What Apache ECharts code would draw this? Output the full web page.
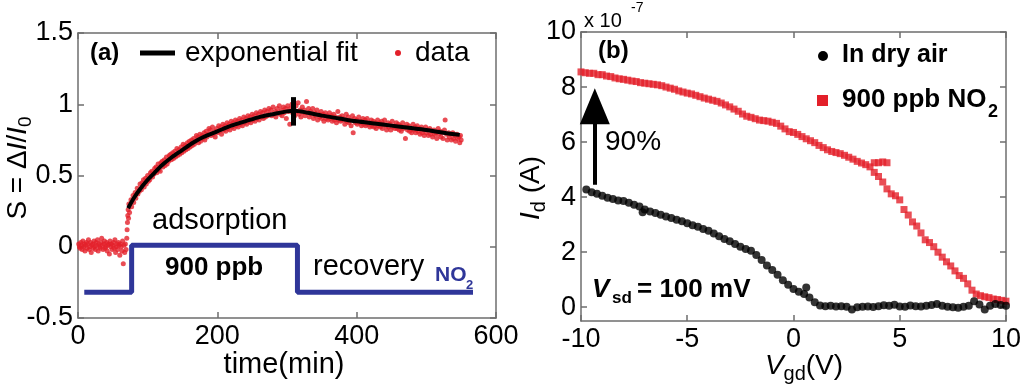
<!DOCTYPE html>
<html><head><meta charset="utf-8">
<script src="https://cdn.jsdelivr.net/npm/echarts@6/dist/echarts.min.js"></script>
<style>html,body{margin:0;padding:0;background:#fff}#c{width:1024px;height:391px}</style>
</head><body><div id="c"></div>
<script>
// ---------- Panel (a): response vs time ----------
const timeTicks = [0, 200, 400, 600];
const sTicks = [-0.5, 0, 0.5, 1, 1.5];
// measured response S (time[min], S)
const dataPoints = [
[1,0.02],[2,0.00],[3,-0.01],[4,0.03],[5,0.01],[6,-0.02],[7,0.04],[8,0.00],[9,0.02],[10,-0.03],
[11,0.01],[12,0.03],[13,-0.01],[14,0.02],[15,0.05],[16,-0.02],[17,0.00],[18,0.03],[19,-0.04],[20,0.01],
[21,0.02],[22,-0.01],[23,0.04],[24,0.00],[25,-0.02],[26,0.03],[27,0.01],[28,0.05],[29,-0.03],[30,0.02],
[31,0.00],[32,-0.01],[33,0.03],[34,0.06],[35,0.01],[36,-0.02],[37,0.02],[38,0.04],[39,-0.01],[40,0.00],
[41,0.03],[42,-0.03],[43,0.01],[44,0.02],[45,-0.05],[46,0.04],[47,0.00],[48,0.02],[49,-0.02],[50,0.01],
[51,0.03],[52,-0.01],[53,0.05],[54,-0.04],[55,0.00],[56,0.02],[57,-0.02],[58,0.03],[59,0.01],[60,-0.06],
[61,0.02],[62,0.00],[63,-0.03],[64,0.04],[65,-0.12],[66,0.01],[67,-0.04],[68,0.02],[69,-0.02],
[70,0.06],[70.5,0.12],[71,0.17],[71.5,0.22],[72,0.26],[72.5,0.20],
[73,0.30],[74,0.24],[76,0.33],[77,0.28],[79,0.36],[80,0.31],[82,0.38],[83,0.34],[85,0.41],[86,0.37],
[88,0.39],[89,0.44],[91,0.40],[92,0.45],[94,0.47],[95,0.42],[97,0.48],[98,0.44],[100,0.50],[101,0.46],
[103,0.47],[104,0.52],[106,0.53],[107,0.49],[109,0.51],[110,0.55],[112,0.56],[113,0.52],[115,0.58],[116,0.54],
[118,0.53],[119,0.59],[121,0.60],[122,0.56],[124,0.61],[125,0.57],[127,0.63],[128,0.58],[130,0.60],[131,0.64],
[133,0.65],[134,0.61],[136,0.66],[137,0.62],[139,0.67],[140,0.63],[142,0.69],[143,0.64],[145,0.68],[146,0.65],
[148,0.70],[149,0.66],[151,0.72],[152,0.67],[154,0.71],[155,0.68],[157,0.73],[158,0.69],[160,0.74],[161,0.70],
[163,0.75],[164,0.71],[166,0.76],[167,0.72],[169,0.74],[170,0.78],[172,0.77],[173,0.73],[175,0.79],[176,0.74],
[178,0.78],[179,0.76],[181,0.80],[182,0.75],[184,0.81],[185,0.77],[187,0.79],[188,0.83],[190,0.82],[191,0.78],
[193,0.84],[194,0.79],[196,0.81],[197,0.77],[199,0.83],[200,0.80],[202,0.85],[203,0.81],[205,0.84],[206,0.79],
[208,0.86],[209,0.82],[211,0.85],[212,0.81],[214,0.87],[215,0.83],[217,0.86],[218,0.82],[220,0.88],[221,0.84],
[223,0.87],[224,0.83],[226,0.89],[227,0.85],[229,0.88],[230,0.84],[232,0.90],[233,0.86],[235,0.89],[236,0.85],
[238,0.91],[239,0.87],[241,0.90],[242,0.86],[244,0.92],[245,0.88],[247,0.91],[248,0.87],[250,0.93],[251,0.89],
[253,0.92],[254,0.88],[256,0.94],[257,0.90],[259,0.93],[260,0.89],[262,0.95],[263,0.91],[265,0.94],[266,0.90],
[268,0.96],[269,0.91],[271,0.95],[272,0.92],[274,0.97],[275,0.93],[277,0.96],[278,0.92],[280,0.98],[281,0.93],
[283,0.95],[284,0.91],[286,0.97],[287,0.94],[289,0.99],[290,0.93],[292,0.96],[293,0.92],[295,0.98],[296,0.94],
[298,0.97],[299,0.90],[301,0.99],[302,0.95],[304,0.86],[305,0.97],[307,1.00],[308,0.94],[310,0.97],[311,0.92],
[313,0.99],[314,0.95],[316,1.01],[317,0.93],[319,0.96],[320,0.91],[322,0.98],[323,0.94],[325,0.96],[326,0.92],
[328,1.02],[329,0.94],[331,0.97],[332,0.91],[334,0.95],[335,0.93],[337,0.97],[338,0.90],[340,0.94],[341,0.92],
[343,0.96],[344,0.89],[346,0.93],[347,0.91],[349,0.95],[350,0.90],[352,0.93],[353,0.88],[355,0.94],[356,0.90],
[358,0.92],[359,0.89],[361,0.94],[362,0.90],[364,0.92],[365,0.88],[367,0.93],[368,0.89],[370,0.91],[371,0.87],
[373,0.95],[374,0.89],[376,0.91],[377,0.88],[379,0.92],[380,0.89],[382,0.90],[383,0.86],[385,0.93],[386,0.88],
[388,0.91],[389,0.87],[391,0.89],[392,0.85],[394,0.92],[395,0.80],[397,0.90],[398,0.87],[400,0.89],[401,0.86],
[403,0.91],[404,0.87],[406,0.88],[407,0.85],[409,0.90],[410,0.86],[412,0.89],[413,0.85],[415,0.90],[416,0.86],
[418,0.87],[419,0.84],[421,0.89],[422,0.85],[424,0.88],[425,0.84],[427,0.87],[428,0.83],[430,0.89],[431,0.85],
[433,0.87],[434,0.84],[436,0.88],[437,0.83],[439,0.86],[440,0.89],[442,0.85],[443,0.82],[445,0.87],[446,0.84],
[448,0.86],[449,0.82],[451,0.88],[452,0.84],[454,0.85],[455,0.83],[457,0.87],[458,0.83],[460,0.86],[461,0.82],
[463,0.85],[464,0.81],[466,0.87],[467,0.83],[469,0.84],[470,0.76],[472,0.86],[473,0.82],[475,0.85],[476,0.81],
[478,0.83],[479,0.80],[481,0.86],[482,0.82],[484,0.84],[485,0.80],[487,0.85],[488,0.81],[490,0.83],[491,0.79],
[493,0.84],[494,0.80],[496,0.82],[497,0.78],[499,0.84],[500,0.80],[502,0.82],[503,0.78],[505,0.83],[506,0.79],
[508,0.81],[509,0.77],[511,0.82],[512,0.79],[514,0.80],[515,0.76],[517,0.83],[518,0.79],[520,0.81],[521,0.77],
[523,0.80],[524,0.76],[526,0.82],[527,0.89],[529,0.79],[530,0.75],[532,0.80],[533,0.77],[535,0.79],[536,0.75],
[538,0.80],[539,0.76],[541,0.78],[542,0.74],[544,0.79],[545,0.76],[547,0.77],[548,0.73],[549,0.78],[550,0.75]
];
// exponential fit
const fitPoints = [
[72,0.27],[80,0.34],[90,0.41],[100,0.47],[110,0.52],[120,0.57],[135,0.63],[150,0.68],[165,0.73],[180,0.77],
[200,0.81],[220,0.85],[240,0.88],[260,0.91],[280,0.93],[300,0.95],[310,0.955],[330,0.94],[350,0.92],[375,0.90],
[400,0.88],[425,0.865],[450,0.85],[475,0.835],[500,0.82],[525,0.80],[548,0.785]
];
// NO2 exposure schedule (step trace)
const no2Steps = [[9,-0.32],[77,-0.32],[77,0.01],[315,0.01],[315,-0.32],[567,-0.32]];
const switchMark = [[309,0.85],[309,1.05]];

// ---------- Panel (b): Id vs Vgd ----------
const vgdTicks = [-10, -5, 0, 5, 10];
const idTicks = [0, 2, 4, 6, 8, 10];
const dryAir = [
[-9.75,4.28],[-9.5,4.18],[-9.25,4.12],[-9.0,4.05],[-8.75,3.98],[-8.5,3.93],[-8.25,3.88],[-8.0,3.86],[-7.75,3.80],[-7.5,3.72],
[-7.25,3.66],[-7.1,3.45],[-7.0,3.55],[-6.75,3.48],[-6.5,3.42],[-6.25,3.36],[-6.0,3.30],[-5.75,3.24],[-5.5,3.18],[-5.25,3.12],
[-5.0,3.05],[-4.75,2.98],[-4.5,2.92],[-4.25,2.84],[-4.0,2.78],[-3.75,2.68],[-3.5,2.58],[-3.25,2.48],[-3.0,2.40],[-2.75,2.30],
[-2.5,2.20],[-2.25,2.12],[-2.0,2.05],[-1.75,1.90],[-1.5,1.72],[-1.25,1.52],[-1.0,1.35],[-0.75,1.18],[-0.5,0.98],[-0.25,0.82],
[0.0,0.66],[0.25,0.56],[0.5,0.48],[0.6,0.72],[0.75,0.35],[1.0,0.18],[1.25,0.06],[1.5,0.04],[1.75,0.05],[2.0,0.03],
[2.25,0.04],[2.5,0.02],[2.75,-0.08],[3.0,0.0],[3.25,0.02],[3.5,0.03],[3.75,0.01],[4.0,0.04],[4.25,0.07],[4.5,0.05],
[4.75,0.09],[5.0,0.03],[5.25,0.02],[5.5,0.06],[5.75,0.04],[6.0,0.03],[6.25,0.05],[6.5,0.08],[6.75,0.12],[7.0,0.05],
[7.25,0.02],[7.5,0.0],[7.75,-0.02],[8.0,0.02],[8.25,0.05],[8.5,0.22],[8.75,0.10],[9.0,-0.08],[9.25,0.05],[9.5,0.12],
[9.75,0.08],[10.0,0.05]
];
const no2Exposed = [
[-10.0,8.55],[-9.8,8.52],[-9.6,8.5],[-9.4,8.5],[-9.2,8.45],[-9.0,8.45],[-8.8,8.4],[-8.6,8.38],[-8.4,8.33],[-8.2,8.3],
[-8.0,8.28],[-7.8,8.25],[-7.6,8.22],[-7.4,8.2],[-7.2,8.16],[-7.0,8.14],[-6.8,8.12],[-6.6,8.1],[-6.4,8.08],[-6.2,8.05],
[-6.0,8.0],[-5.8,7.96],[-5.6,7.92],[-5.4,7.86],[-5.2,7.82],[-5.0,7.78],[-4.8,7.75],[-4.6,7.7],[-4.4,7.65],[-4.2,7.6],
[-4.0,7.56],[-3.8,7.52],[-3.6,7.48],[-3.4,7.42],[-3.2,7.35],[-3.0,7.28],[-2.8,7.2],[-2.6,7.12],[-2.4,7.02],[-2.2,6.94],
[-2.0,6.9],[-1.8,6.85],[-1.6,6.8],[-1.4,6.78],[-1.2,6.76],[-1.0,6.72],[-0.8,6.68],[-0.6,6.58],[-0.4,6.48],[-0.2,6.38],
[0.0,6.35],[0.2,6.28],[0.4,6.2],[0.6,6.12],[0.8,6.05],[1.0,5.98],[1.2,5.88],[1.4,5.8],[1.6,5.72],[1.8,5.66],
[2.0,5.62],[2.2,5.58],[2.4,5.52],[2.6,5.45],[2.8,5.38],[3.0,5.3],[3.2,5.24],[3.4,5.18],[3.6,5.1],[3.8,4.9],
[3.8,5.25],[4.0,5.25],[4.2,5.28],[4.4,5.25],
[4.0,4.75],[4.2,4.55],[4.4,4.3],[4.6,4.12],[4.8,4.05],[5.0,3.9],[5.2,3.55],[5.4,3.35],[5.6,3.1],[5.8,2.95],
[6.0,2.7],[6.2,2.45],[6.4,2.35],[6.6,2.2],[6.8,2.0],[7.0,1.82],[7.2,1.65],[7.4,1.5],[7.6,1.32],[7.8,1.15],
[8.0,1.05],[8.2,0.85],[8.4,0.62],[8.6,0.48],[8.8,0.42],[9.0,0.38],[9.2,0.35],[9.4,0.3],[9.6,0.28],[9.8,0.25],[10.0,0.22]
];
const arrowPoints = [[-9.35,4.45],[-9.35,7.3]];

// ---------- styling ----------
const FONT = 'Liberation Sans, Arial, sans-serif';
const RED = '#e3202a';
const BLUE = '#2f3699';
const AX = '#6e6e6e';
const lineSt = {color: AX, width: 1.5};

function xAx(grid, ticks, pos, showLabel) {
  return {
    type: 'value', gridIndex: grid, position: pos,
    min: ticks[0], max: ticks[ticks.length - 1], interval: ticks[1] - ticks[0],
    axisLine: {show: true, onZero: false, lineStyle: lineSt},
    axisTick: {show: true, inside: true, length: 6, lineStyle: lineSt},
    axisLabel: {show: showLabel, fontSize: 27, fontFamily: FONT, color: '#000', margin: 5},
    splitLine: {show: false}
  };
}
function yAx(grid, ticks, min, pos, showLabel) {
  return {
    type: 'value', gridIndex: grid, position: pos,
    min: min, max: ticks[ticks.length - 1],
    axisLine: {show: true, onZero: false, lineStyle: lineSt},
    axisTick: {show: true, inside: true, length: 6, lineStyle: lineSt, customValues: ticks},
    axisLabel: {show: showLabel, fontSize: 27, fontFamily: FONT, color: '#000', margin: 5, customValues: ticks},
    splitLine: {show: false}
  };
}

function txt(x, y, text, size, opts) {
  opts = opts || {};
  return {
    type: 'text', x: x, y: y, rotation: opts.rotation || 0, z: 100,
    style: Object.assign({
      text: text, fontSize: size, fontFamily: FONT, fontWeight: opts.bold ? 'bold' : 'normal',
      fontStyle: opts.italic ? 'italic' : 'normal',
      fill: opts.color || '#000',
      align: opts.align || 'left', textAlign: opts.align || 'left',
      verticalAlign: 'middle', textVerticalAlign: 'middle'
    }, opts.rich ? {rich: opts.rich} : {})
  };
}

const chart = echarts.init(document.getElementById('c'));
chart.setOption({
  animation: false,
  backgroundColor: '#fff',
  grid: [
    {left: 78, top: 33, width: 418, height: 285},
    {left: 581, top: 32, width: 425, height: 289}
  ],
  xAxis: [
    xAx(0, timeTicks, 'bottom', true), xAx(0, timeTicks, 'top', false),
    xAx(1, vgdTicks, 'bottom', true), xAx(1, vgdTicks, 'top', false)
  ],
  yAxis: [
    yAx(0, sTicks, sTicks[0], 'left', true), yAx(0, sTicks, sTicks[0], 'right', false),
    yAx(1, idTicks, -0.5, 'left', true), yAx(1, idTicks, -0.5, 'right', false)
  ],
  series: [
    {name: 'NO2', type: 'line', xAxisIndex: 0, yAxisIndex: 0, data: no2Steps, showSymbol: false,
     lineStyle: {color: BLUE, width: 5}, z: 2},
    {name: 'data', type: 'scatter', xAxisIndex: 0, yAxisIndex: 0, data: dataPoints,
     symbol: 'circle', symbolSize: 5, itemStyle: {color: RED}, z: 3},
    {name: 'exponential fit', type: 'line', xAxisIndex: 0, yAxisIndex: 0, data: fitPoints, showSymbol: false,
     smooth: 0.3, lineStyle: {color: '#000', width: 4}, z: 4,
     markLine: {silent: true, symbol: 'none', label: {show: false},
       lineStyle: {color: '#000', width: 5, type: 'solid'},
       data: [[{coord: switchMark[0]}, {coord: switchMark[1]}]]}},
    {name: '900 ppb NO2', type: 'scatter', xAxisIndex: 2, yAxisIndex: 2, data: no2Exposed,
     symbol: 'rect', symbolSize: 7, itemStyle: {color: RED}, z: 3},
    {name: 'In dry air', type: 'scatter', xAxisIndex: 2, yAxisIndex: 2, data: dryAir,
     symbol: 'circle', symbolSize: 8, itemStyle: {color: '#000'}, z: 4,
     markLine: {silent: true, symbol: ['none', 'triangle'], symbolSize: [30, 36], label: {show: false},
       lineStyle: {color: '#000', width: 4, type: 'solid'},
       data: [[{coord: arrowPoints[0]}, {coord: arrowPoints[1]}]]}}
  ],
  graphic: [
    // panel (a) legend
    txt(90, 53, '(a)', 24, {bold: true}),
    {type: 'rect', shape: {x: 140, y: 50.5, width: 35, height: 5}, style: {fill: '#000'}, z: 100},
    txt(185, 53, 'exponential fit', 28),
    {type: 'circle', shape: {cx: 398, cy: 53, r: 3}, style: {fill: RED}, z: 100},
    txt(415, 53, 'data', 28),
    // panel (a) annotations
    txt(152, 221, 'adsorption', 29),
    txt(165, 268, '900 ppb', 26, {bold: true}),
    txt(313, 267, 'recovery', 29),
    txt(435, 275, 'NO', 21, {bold: true, color: BLUE}),
    txt(466, 285, '2', 13, {bold: true, color: BLUE}),
    // panel (a) axis names
    txt(284, 365, 'time(min)', 29, {align: 'center'}),
    txt(18, 168, '{n|S = Δ}{i|I}{n|/}{i|I}{s|0}', 28, {align: 'center', rotation: Math.PI / 2,
      rich: {n: {fontSize: 28, fontFamily: FONT}, i: {fontSize: 28, fontFamily: FONT, fontStyle: 'italic'},
             s: {fontSize: 19, fontFamily: FONT, padding: [16, 0, 0, 0]}}}),
    // panel (b) texts
    txt(584, 21, 'x 10', 20),
    txt(631, 8, '-7', 14),
    txt(598, 51, '(b)', 24, {bold: true}),
    txt(605, 142, '90%', 28),
    {type: 'circle', shape: {cx: 823, cy: 56, r: 5}, style: {fill: '#000'}, z: 100},
    txt(842, 55, 'In dry air', 25, {bold: true}),
    {type: 'rect', shape: {x: 817, y: 95, width: 11, height: 11}, style: {fill: RED}, z: 100},
    txt(842, 100, '900 ppb NO', 26, {bold: true}),
    txt(988, 112, '2', 18, {bold: true}),
    txt(592, 290, 'V', 26, {bold: true, italic: true}),
    txt(612, 298, 'sd', 17, {bold: true}),
    txt(637, 290, '= 100 mV', 26, {bold: true}),
    txt(804, 366, '{i|V}{s|gd}{n|(V)}', 28, {align: 'center',
      rich: {n: {fontSize: 28, fontFamily: FONT}, i: {fontSize: 28, fontFamily: FONT, fontStyle: 'italic'},
             s: {fontSize: 20, fontFamily: FONT, padding: [16, 0, 0, 0]}}}),
    txt(531, 188, '{i|I}{s|d}{n| (A)}', 28, {align: 'center', rotation: Math.PI / 2,
      rich: {n: {fontSize: 28, fontFamily: FONT}, i: {fontSize: 28, fontFamily: FONT, fontStyle: 'italic'},
             s: {fontSize: 20, fontFamily: FONT, padding: [16, 0, 0, 0]}}})
  ]
});
</script></body></html>
